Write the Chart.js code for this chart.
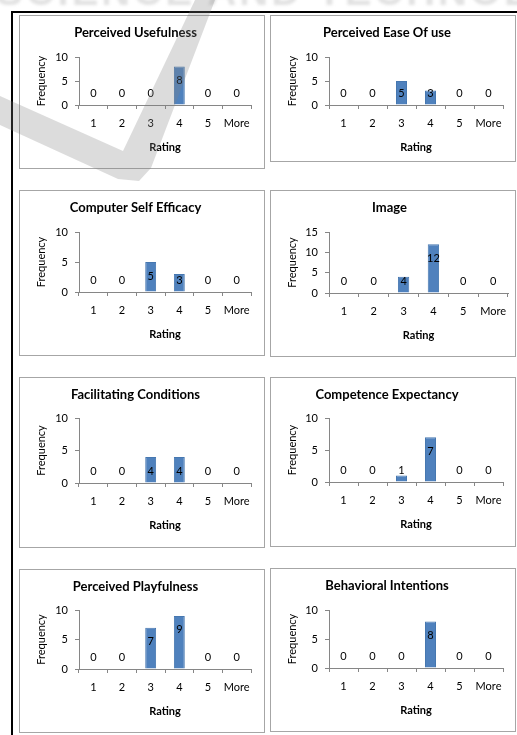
<!DOCTYPE html>
<html>
<head>
<meta charset="utf-8">
<script src="https://cdn.jsdelivr.net/npm/chart.js@4.4.1/dist/chart.umd.min.js"></script>
<style>
body {
    margin: 0;
    background: #fff;
    width: 517px;
    height: 735px;
    overflow: hidden;
    position: relative;
    font-family: Lato, "Liberation Sans", sans-serif;
}
#frame {
    position: absolute;
    left: 11px;
    top: 11px;
    right: 0;
    bottom: 0;
    border-left: 2px solid #000;
    border-top: 2px solid #000;
}
.box {
    position: absolute;
    border: 1px solid #a6a6a6;
    box-sizing: border-box;
    background: #fff;
}
.box canvas {
    display: block;
}
#wm-text {
    position: absolute;
    left: 0;
    top: 0;
    width: 517px;
    height: 10px;
    overflow: hidden;
}
#wm-text span {
    position: absolute;
    left: -4px;
    top: -31px;
    white-space: nowrap;
    font: bold 40px "Liberation Sans", sans-serif;
    color: #e2e2e2;
    letter-spacing: 3px;
    filter: blur(1.5px);
}
#wm {
    position: absolute;
    left: 0;
    top: 0;
    pointer-events: none;
}
</style>
</head>
<body>
<div id="wm-text"><span>SCIENCE AND TECHNOLOGY PUBLICATIONS</span></div>
<div id="frame"></div>
<div id="charts"></div>
<svg id="wm" width="517" height="735">
    <polygon points="195,0 215,0 151,168 139,181 118,179 0,125 0,96 123,151" fill="rgba(128,128,128,0.28)"></polygon>
</svg>
<script>
const ratingLabels = ["1", "2", "3", "4", "5", "More"];
const chartTitles = [
    "Perceived Usefulness",
    "Perceived Ease Of use",
    "Computer Self Efficacy",
    "Image",
    "Facilitating Conditions",
    "Competence Expectancy",
    "Perceived Playfulness",
    "Behavioral Intentions"
];
const usefulness = [0, 0, 0, 8, 0, 0];
const easeOfUse = [0, 0, 5, 3, 0, 0];
const selfEfficacy = [0, 0, 5, 3, 0, 0];
const image = [0, 0, 4, 12, 0, 0];
const facilitating = [0, 0, 4, 4, 0, 0];
const competence = [0, 0, 1, 7, 0, 0];
const playfulness = [0, 0, 7, 9, 0, 0];
const intentions = [0, 0, 0, 8, 0, 0];
const yMaxValues = [10, 10, 10, 15, 10, 10, 10, 10];
const yStep = 5;

const frequencies = [usefulness, easeOfUse, selfEfficacy, image, facilitating, competence, playfulness, intentions];

// where each chart box sits on the page: x, y, width, height
const boxes = [
    [19, 15, 246, 154],
    [270, 15, 246, 147],
    [19, 190, 246, 166],
    [270, 190, 246, 167],
    [19, 377, 246, 171],
    [270, 377, 246, 170],
    [19, 569, 246, 164],
    [270, 568, 246, 164]
];
// plot area inside each box: left, top, right, bottom
const plots = [
    [60, 42, 232, 90],
    [59, 42, 233, 90],
    [60, 42, 232, 102],
    [59, 42, 238, 103],
    [60, 41, 232, 106],
    [59, 41, 233, 105],
    [60, 41, 232, 100],
    [59, 42, 233, 100]
];

const fontFamily = 'Lato, "Liberation Sans", sans-serif';
const axisColor = "#868686";
const xAxisHeight = 50;
const titleSize = 13;

// value labels like Excel's "inside end"
const valueLabels = {
    id: "valueLabels",
    afterDatasetsDraw(chart) {
        const ctx = chart.ctx;
        const meta = chart.getDatasetMeta(0);
        const values = chart.data.datasets[0].data;
        const base = chart.scales.y.getPixelForValue(0);
        ctx.save();
        ctx.font = "11px " + fontFamily;
        ctx.fillStyle = "#000";
        ctx.textAlign = "center";
        ctx.textBaseline = "middle";
        meta.data.forEach((bar, i) => {
            let y = base - 12;
            if (values[i] > 0) {
                y = Math.min(bar.y + 14, base - 12);
            }
            ctx.fillText(String(values[i]), bar.x, y);
        });
        ctx.restore();
    }
};

function createChart(index) {
    let box = boxes[index];
    let plot = plots[index];
    let div = document.createElement("div");
    div.className = "box";
    div.style.left = box[0] + "px";
    div.style.top = box[1] + "px";
    div.style.width = box[2] + "px";
    div.style.height = box[3] + "px";
    let canvas = document.createElement("canvas");
    let cw = box[2] - 2;
    let ch = box[3] - 2;
    canvas.width = cw;
    canvas.height = ch;
    canvas.style.width = cw + "px";
    canvas.style.height = ch + "px";
    div.appendChild(canvas);
    document.getElementById("charts").appendChild(div);

    // plot edges in canvas coordinates (box border is 1px)
    let left = plot[0] - 1;
    let top = plot[1] - 1;
    let right = plot[2] - 1;
    let bottom = plot[3] - 1;
    let titleLine = titleSize * 1.2;
    let titleTop = 17 - titleLine / 2;

    const config = {
        type: "bar",
        data: {
            labels: ratingLabels,
            datasets: [
                {
                    data: frequencies[index],
                    backgroundColor: "#4F81BD",
                    borderColor: "#4677b0",
                    borderWidth: 1,
                    barPercentage: 0.38,
                    categoryPercentage: 1
                }
            ]
        },
        options: {
            responsive: false,
            animation: false,
            layout: {
                padding: {
                    left: 0,
                    top: 0,
                    right: cw - right,
                    bottom: ch - bottom - xAxisHeight
                }
            },
            plugins: {
                legend: { display: false },
                tooltip: { enabled: false },
                title: {
                    display: true,
                    text: chartTitles[index],
                    color: "#000",
                    font: { family: fontFamily, size: titleSize, weight: "bold" },
                    padding: { top: titleTop, bottom: top - titleTop - titleLine }
                }
            },
            scales: {
                x: {
                    grid: {
                        offset: true,
                        drawOnChartArea: false,
                        drawTicks: true,
                        tickLength: 4,
                        tickColor: axisColor
                    },
                    border: { color: axisColor, width: 1 },
                    ticks: {
                        color: "#000",
                        padding: 8,
                        minRotation: 0,
                        maxRotation: 0,
                        autoSkip: false,
                        font: { family: fontFamily, size: 11 }
                    },
                    title: {
                        display: true,
                        text: "Rating",
                        color: "#000",
                        font: { family: fontFamily, size: 11, weight: "bold" },
                        padding: { top: 0, bottom: 1.4 }
                    },
                    afterFit: function (scale) {
                        scale.height = xAxisHeight;
                    }
                },
                y: {
                    min: 0,
                    max: yMaxValues[index],
                    grid: {
                        drawOnChartArea: false,
                        drawTicks: true,
                        tickLength: 4,
                        tickColor: axisColor
                    },
                    border: { color: axisColor, width: 1 },
                    ticks: {
                        stepSize: yStep,
                        color: "#000",
                        padding: 7,
                        font: { family: fontFamily, size: 11 }
                    },
                    title: {
                        display: true,
                        text: "Frequency",
                        color: "#000",
                        font: { family: fontFamily, size: 11 },
                        padding: { top: 15, bottom: 0 }
                    },
                    afterFit: function (scale) {
                        scale.width = left;
                    }
                }
            }
        },
        plugins: [valueLabels]
    };
    new Chart(canvas, config);
}

for (let i = 0; i < boxes.length; i++) {
    createChart(i);
}
</script>
</body>
</html>
